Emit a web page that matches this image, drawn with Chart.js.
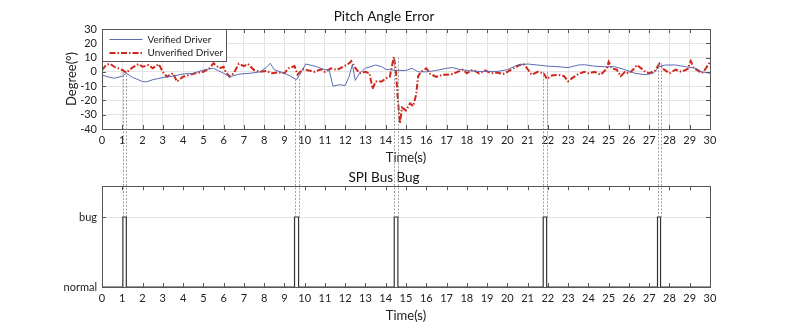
<!DOCTYPE html>
<html>
<head>
<meta charset="utf-8">
<script src="https://cdn.jsdelivr.net/npm/chart.js@4.4.1/dist/chart.umd.min.js"></script>
<style>
    html, body { margin: 0; padding: 0; background: #fff; }
    #wrap { position: relative; width: 785px; height: 333px; }
    #pitchBox { position: absolute; left: 0; top: 0; width: 785px; height: 170px; }
    #spiBox { position: absolute; left: 0; top: 170px; width: 785px; height: 163px; }
</style>
</head>
<body>
<div id="wrap">
    <div id="pitchBox"><canvas id="pitchChart"></canvas></div>
    <div id="spiBox"><canvas id="spiChart"></canvas></div>
</div>
<script>
// =====================================
// Data
// =====================================

const verifiedTime = [0, 0.3, 0.6, 1.0, 1.2, 1.5, 2.0, 2.2, 2.5, 3.0, 3.5, 4.0, 4.5, 5.0, 5.5, 6.0, 6.3, 6.8, 7.3, 7.8, 8.1, 8.3, 8.5, 9.0, 9.3, 9.6, 9.8, 10.05, 10.5, 10.8, 11.0, 11.2, 11.4, 11.7, 12.0, 12.2, 12.35, 12.5, 12.7, 13.0, 13.5, 13.8, 14.0, 14.5, 15.0, 15.3, 15.6, 16.0, 16.5, 17.0, 17.3, 17.6, 18.0, 18.5, 19.0, 19.5, 20.0, 20.5, 21.0, 21.5, 22.0, 22.5, 23.0, 23.5, 23.8, 24.3, 24.8, 25.3, 25.8, 26.3, 26.8, 27.2, 27.5, 27.8, 28.3, 28.8, 29.3, 29.6, 30];
const verifiedDeg = [-2.2, -3.5, -4.5, -3, -1, -3.8, -6.8, -7, -5.5, -4, -3, -1.5, -1, 1.3, 2.5, -1, -3.4, -1.5, -1, 0, 3, 6, 1.5, -1, -3, -5.5, -1, 5.5, 4, 2.5, 1.5, 1.5, -10, -9, -9.5, -3, 5, -6, -1, 2.5, 4.8, 3.6, 1.8, 1, 1, 2.5, 0, 0, 1, 2.5, 3, 1.8, 1, 0.3, 0.3, 0.3, 1.5, 4.8, 5.5, 4.8, 4, 3.6, 3, 4.8, 5, 4, 3.6, 3.6, 1.5, -1, -2, -1, 3.6, 4.8, 4.8, 3.6, 2.5, 0, -1];

const unverifiedTime = [0, 0.2, 0.4, 0.6, 0.8, 1.0, 1.2, 1.5, 1.8, 2.0, 2.3, 2.5, 2.8, 3.0, 3.2, 3.5, 3.7, 4.0, 4.3, 4.6, 5.0, 5.3, 5.5, 5.8, 6.0, 6.1, 6.3, 6.5, 6.75, 7.0, 7.2, 7.5, 7.8, 8.1, 8.4, 8.7, 9.0, 9.2, 9.5, 9.65, 9.9, 10.2, 10.5, 10.8, 11.0, 11.3, 11.6, 11.9, 12.2, 12.3, 12.5, 12.7, 13.0, 13.2, 13.35, 13.5, 13.8, 14.0, 14.2, 14.4, 14.5, 14.6, 14.7, 14.8, 15.0, 15.2, 15.35, 15.5, 15.6, 15.75, 16.0, 16.2, 16.5, 16.8, 17.0, 17.3, 17.6, 17.8, 18.0, 18.3, 18.6, 18.9, 19.2, 19.5, 19.8, 20.0, 20.3, 20.6, 20.8, 21.0, 21.2, 21.5, 21.8, 21.95, 22.2, 22.5, 22.8, 23.0, 23.2, 23.5, 23.8, 24.0, 24.3, 24.6, 24.9, 25.0, 25.15, 25.4, 25.6, 25.8, 26.0, 26.2, 26.4, 26.6, 26.8, 27.0, 27.3, 27.5, 27.7, 28.0, 28.3, 28.6, 28.9, 29.05, 29.2, 29.4, 29.6, 29.8, 30];
const unverifiedDeg = [1.3, 4.8, 5.7, 3.6, 2.5, 1.3, -0.5, 3, 5.5, 3.6, 4.8, 2.5, 5.5, 0, -3.4, -1, -6.8, -3.4, -2.2, -1, 0, 2.5, 6, 2.5, 3.6, 0, -3.4, -1, 5.7, 4, 5.5, 1.3, 0, 0.6, -1, -0.3, -1, 2.5, 4, -2, 1.8, 1, 0, 1.8, 0, 2.5, 1.3, 3.6, 6, 7.5, 2.8, -1, 0, -1, -12, -6.8, -6.8, -4.5, -3.5, 10.6, 1, -19.7, -36, -25, -27, -22, -24, -16, -3, 0, 2.5, -1.5, -3.5, -2, -2, -1.5, 0.3, 1.5, -1, 1.5, -1, 1, -1, -0.5, -1.5, 0, 2.5, 4.8, 5.5, 2, -2, 0, -1, -5, -2.6, -2, -3, -6.7, -4.4, -1.5, 0, -1, 0, -2, 2, 7, 2.5, 1.5, -3, 0, -1, 1.5, 4.8, 2.5, 0, -1, 1, 5.7, 2, -1, 1.5, 0, 2, 7.5, 2.5, 1, -1, 2.5, 7];

// SPI bus bug windows (s) and where the guide lines start on the pitch plot (deg)
const bugStart = [1.03, 9.5, 14.42, 21.77, 27.41];
const bugEnd = [1.2, 9.7, 14.6, 21.94, 27.56];
const guideTop = [0, -5, 10, 0, 6];

const stateLabels = ["normal", "bug"];

// =====================================
// Helpers
// =====================================

function toPoints(xs, ys) {
    return xs.map((x, i) => ({ x: x, y: ys[i] }));
}

const spiPoints = [{ x: 0, y: 0 }];
bugStart.forEach((s, i) => {
    spiPoints.push({ x: s, y: 0 }, { x: s, y: 1 }, { x: bugEnd[i], y: 1 }, { x: bugEnd[i], y: 0 });
});
spiPoints.push({ x: 30, y: 0 });

Chart.defaults.font.family = "Lato, 'Open Sans', sans-serif";
Chart.defaults.font.size = 11;
Chart.defaults.color = "#222";

const FRAME = "#555";
const GRID = "#e4e4e4";

// box around the plot + inward ticks (MATLAB look)
const frameTicks = {
    id: "frameTicks",
    afterDatasetsDraw(chart, args, opts) {
        const { ctx, chartArea: a, scales } = chart;
        const len = 4;
        ctx.save();
        ctx.strokeStyle = FRAME;
        ctx.lineWidth = 1;
        ctx.beginPath();
        scales.x.ticks.forEach(t => {
            const px = Math.round(scales.x.getPixelForValue(t.value)) + 0.5;
            ctx.moveTo(px, a.bottom); ctx.lineTo(px, a.bottom - len);
            ctx.moveTo(px, a.top); ctx.lineTo(px, a.top + len);
        });
        scales.y.ticks.forEach(t => {
            const py = Math.round(scales.y.getPixelForValue(t.value)) + 0.5;
            ctx.moveTo(a.left, py); ctx.lineTo(a.left + len, py);
            ctx.moveTo(a.right, py); ctx.lineTo(a.right - len, py);
        });
        ctx.stroke();
        ctx.strokeRect(Math.round(a.left) + 0.5, Math.round(a.top) + 0.5,
            Math.round(a.right - a.left), Math.round(a.bottom - a.top));
        ctx.restore();
    }
};

// thin dashed guides linking the bug windows across both plots
const bugGuides = {
    id: "bugGuides",
    afterDraw(chart, args, opts) {
        const { ctx, scales } = chart;
        ctx.save();
        ctx.strokeStyle = "#8a8a8a";
        ctx.lineWidth = 0.8;
        ctx.setLineDash([2, 1.5]);
        ctx.beginPath();
        bugStart.forEach((s, i) => {
            let y0, y1;
            if (opts.part === "top") {
                y0 = scales.y.getPixelForValue(guideTop[i]);
                y1 = chart.height;
            } else {
                y0 = 0;
                y1 = scales.y.getPixelForValue(1);
            }
            [s, bugEnd[i]].forEach(v => {
                const px = Math.round(scales.x.getPixelForValue(v)) + 0.5;
                ctx.moveTo(px, y0); ctx.lineTo(px, y1);
            });
        });
        ctx.stroke();
        ctx.restore();
    }
};

// legend box in the top-left corner of the plot
const boxLegend = {
    id: "boxLegend",
    afterDraw(chart) {
        const { ctx, chartArea: a } = chart;
        const left = Math.round(a.left) + 0.5, top = Math.round(a.top) + 0.5;
        ctx.save();
        ctx.fillStyle = "#fff";
        ctx.fillRect(left, top, 124, 32);
        ctx.strokeStyle = FRAME;
        ctx.lineWidth = 1;
        ctx.strokeRect(left, top, 124, 32);
        chart.data.datasets.forEach((ds, i) => {
            const y = top + 10 + i * 13.4;
            ctx.strokeStyle = ds.borderColor;
            ctx.lineWidth = ds.borderWidth;
            ctx.setLineDash(ds.borderDash || []);
            ctx.beginPath();
            ctx.moveTo(left + 7, y);
            ctx.lineTo(left + 40, y);
            ctx.stroke();
            ctx.setLineDash([]);
            ctx.fillStyle = "#222";
            ctx.font = "10px Lato, 'Open Sans', sans-serif";
            ctx.textBaseline = "middle";
            ctx.fillText(ds.label, left + 45, y);
        });
        ctx.restore();
    }
};

// =====================================
// Pitch Angle Error
// =====================================

const pitchChart = new Chart(document.getElementById("pitchChart"), {
    type: "line",
    data: {
        datasets: [{
            label: "Verified Driver",
            data: toPoints(verifiedTime, verifiedDeg),
            borderColor: "#5b6db3",
            borderWidth: 1,
            pointRadius: 0,
            tension: 0
        }, {
            label: "Unverified Driver",
            data: toPoints(unverifiedTime, unverifiedDeg),
            borderColor: "#d3261a",
            borderWidth: 2,
            borderDash: [6, 2, 1.5, 2],
            pointRadius: 0,
            tension: 0
        }]
    },
    options: {
        responsive: true,
        maintainAspectRatio: false,
        animation: false,
        layout: { padding: { left: 58, right: 75, top: 5, bottom: 0 } },
        plugins: {
            legend: { display: false },
            tooltip: { enabled: false },
            title: {
                display: true,
                text: "Pitch Angle Error",
                color: "#111",
                font: { size: 13.5, weight: "normal" },
                padding: { top: 4, bottom: 3.8 }
            },
            bugGuides: { part: "top" }
        },
        scales: {
            x: {
                type: "linear",
                min: 0,
                max: 30,
                afterFit: s => { s.height = 41; },
                ticks: { stepSize: 1, autoSkip: false, maxRotation: 0, padding: 5 },
                grid: { color: GRID, drawTicks: false },
                border: { display: false },
                title: {
                    display: true,
                    text: "Time(s)",
                    color: "#222",
                    font: { size: 13 },
                    padding: { top: 0, bottom: 4.2 }
                }
            },
            y: {
                min: -40,
                max: 30,
                afterFit: s => { s.width = 44; },
                ticks: { stepSize: 10, autoSkip: false, padding: 5 },
                grid: { color: GRID, drawTicks: false },
                border: { display: false },
                title: {
                    display: true,
                    text: "Degree(°)",
                    color: "#222",
                    font: { size: 13 },
                    padding: { top: 6.2, bottom: 0 }
                }
            }
        }
    },
    plugins: [frameTicks, bugGuides, boxLegend]
});

// =====================================
// SPI Bus Bug
// =====================================

const spiChart = new Chart(document.getElementById("spiChart"), {
    type: "line",
    data: {
        datasets: [{
            label: "SPI Bus",
            data: spiPoints,
            borderColor: "#333",
            borderWidth: 1.2,
            pointRadius: 0,
            tension: 0
        }]
    },
    options: {
        responsive: true,
        maintainAspectRatio: false,
        animation: false,
        layout: { padding: { left: 58, right: 75, top: 0, bottom: 0 } },
        plugins: {
            legend: { display: false },
            tooltip: { enabled: false },
            title: {
                display: true,
                text: "SPI Bus Bug",
                color: "#111",
                font: { size: 13.5, weight: "normal" },
                padding: { top: 0, bottom: 0 }
            },
            bugGuides: { part: "bottom" }
        },
        scales: {
            x: {
                type: "linear",
                min: 0,
                max: 30,
                afterFit: s => { s.height = 46; },
                ticks: { stepSize: 1, autoSkip: false, maxRotation: 0, padding: 5 },
                grid: { display: false, drawTicks: false },
                border: { display: false },
                title: {
                    display: true,
                    text: "Time(s)",
                    color: "#222",
                    font: { size: 13 },
                    padding: { top: 0, bottom: 9.2 }
                }
            },
            y: {
                min: 0,
                max: 1.44,
                afterFit: s => { s.width = 44; },
                afterBuildTicks: s => { s.ticks = [{ value: 0 }, { value: 1 }]; },
                ticks: { padding: 5, callback: v => stateLabels[v] },
                grid: {
                    drawTicks: false,
                    color: c => (c.tick && c.tick.value === 1) ? GRID : "rgba(0,0,0,0)"
                },
                border: { display: false }
            }
        }
    },
    plugins: [frameTicks, bugGuides]
});
</script>
</body>
</html>
